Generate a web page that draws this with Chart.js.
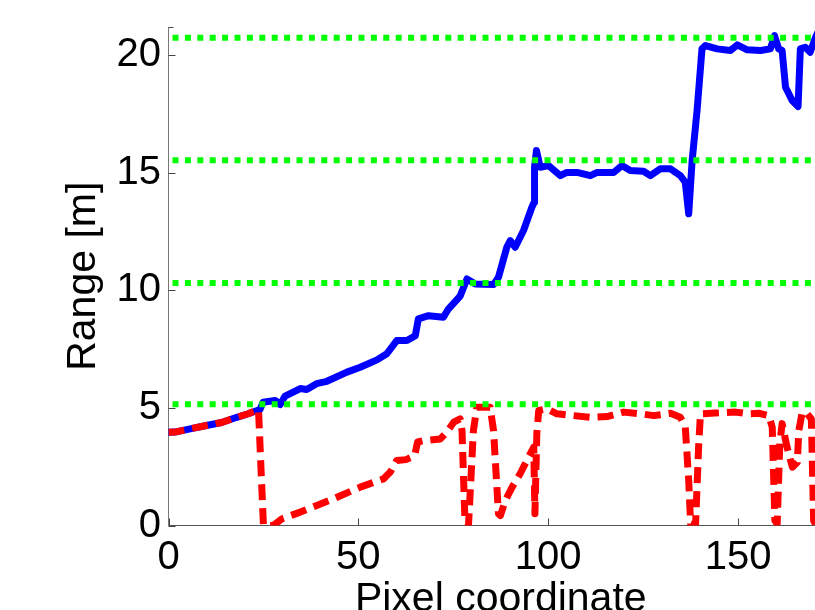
<!DOCTYPE html>
<html><head><meta charset="utf-8">
<script src="https://cdn.jsdelivr.net/npm/chart.js@4/dist/chart.umd.min.js"></script>
<style>html,body{margin:0;padding:0;overflow:hidden;background:#fff;width:815px;height:610px}canvas{display:block}</style>
</head><body>
<canvas id="c" width="833" height="630" style="width:833px;height:630px"></canvas>
<script>
// Blue solid series
const blueX = [0,1.7,6,10,14,18,21,24.1,24.9,28.1,29.4,30.7,34.7,36.4,39,41.7,47,50.5,54.9,57.5,60.1,62.8,65,65.8,68.5,72.4,73.7,76.8,78.6,80.8,85.6,86.9,89.1,90,91.3,93.5,95.7,96.3,96.4,96.9,97.9,100.1,103.2,104.9,107.6,111.1,112.9,117.2,119.4,121.6,125.1,126.9,129.5,132.2,134.8,136.1,137,137.9,139.2,140.5,141.4,144.5,148,149.8,152.4,155.9,158.5,159.6,160.7,161.6,162.5,164.3,165.8,166.4,167.7,169,170.4,172];
const blueY = [3.96,3.97,4.12,4.25,4.38,4.6,4.75,4.93,5.24,5.31,5.14,5.5,5.82,5.78,6.03,6.13,6.52,6.73,7.04,7.3,7.86,7.86,8.07,8.78,8.92,8.85,9.2,9.75,10.48,10.27,10.24,10.55,11.83,12.11,11.83,12.54,13.53,13.74,15.23,15.94,15.23,15.3,14.87,15.01,15.01,14.87,15.01,15.0,15.3,15.09,15.06,14.87,15.16,15.16,14.87,14.59,13.25,15.51,17.64,20.26,20.4,20.26,20.19,20.43,20.22,20.19,20.26,20.82,20.26,20.19,18.63,18.05,17.81,20.26,20.33,20.12,20.75,21.3];
// Red dashed series
const redX = [0,1.7,6,10,14,18,21,23.7,25,27.6,29.8,34.7,43.4,50.5,56.6,58.4,60.1,62.5,64.8,65.6,67.2,71.6,73.3,75.1,76.8,77.3,78.1,79,80.3,81.2,84.7,85.6,86.9,87.4,88.7,90.5,92.6,94.8,96.2,96.5,97,97.5,99.7,102.3,106.7,111.1,115.5,119.9,124.3,127.8,132.2,134.8,136.1,137,137.5,138.8,139.6,140.1,144,149.3,152.8,155.4,158.1,159,159.4,159.7,160.3,161,161.6,162.9,164.3,165.6,166,166.9,168.2,169.3,169.9,170.6];
const redY = [3.96,3.97,4.12,4.25,4.38,4.6,4.75,4.93,0,0,0.28,0.57,1.13,1.63,1.98,2.27,2.76,2.8,2.95,3.55,3.61,3.68,3.97,4.39,4.53,4.04,0.07,0,4.04,5.03,5.03,4.04,0.5,0.42,1.06,1.63,2.2,2.9,3.33,0.5,3.9,4.89,4.96,4.75,4.67,4.6,4.63,4.82,4.75,4.67,4.77,4.6,4.18,1.91,0.07,0,3.33,4.75,4.78,4.82,4.75,4.77,4.67,4.18,1.91,0.21,0.07,3.5,4.33,3.33,2.48,2.69,4.04,4.82,4.75,4.53,0.21,0];
// Green dotted reference levels
const levelY = [5.15, 10.31, 15.53, 20.73];
const levelXRange = [0, 176];
// Axes
const xTickValues = [0, 50, 100, 150];
const yTickValues = [0, 5, 10, 15, 20];
const xLimits = [0, 175];
const yLimits = [0, 21.19];
const xTitle = 'Pixel coordinate';
const yTitle = 'Range [m]';

const FONT = "'Liberation Sans', Arial, Helvetica, sans-serif";
const pts = (xs, ys) => xs.map((x, i) => ({x, y: ys[i]}));

const datasets = [];
levelY.forEach(v => datasets.push({
  data: levelXRange.map(x => ({x, y: v})),
  borderColor: '#00ff00', borderWidth: 6, borderDash: [6, 6.4], borderDashOffset: -4,
  borderCapStyle: 'butt', order: 0
}));
datasets.push({
  data: pts(redX, redY), borderColor: '#ff0000', borderWidth: 7,
  borderDash: [16, 8], borderCapStyle: 'butt', borderJoinStyle: 'round', order: 1
});
datasets.push({
  data: pts(blueX, blueY), borderColor: '#0000ff', borderWidth: 7,
  borderCapStyle: 'round', borderJoinStyle: 'round', order: 2
});
datasets.forEach(d => { d.showLine = true; d.pointRadius = 0; d.tension = 0; d.fill = false; d.clip = 0; });

const inwardTicks = {
  id: 'inwardTicks',
  beforeDatasetsDraw(chart) {
    const {ctx, chartArea: a, scales: {x, y}} = chart;
    ctx.save();
    ctx.strokeStyle = '#444'; ctx.lineWidth = 1;
    ctx.beginPath();
    xTickValues.forEach(v => { const px = Math.round(x.getPixelForValue(v)) + 0.5; ctx.moveTo(px, a.bottom); ctx.lineTo(px, a.bottom - 7); });
    yTickValues.forEach(v => { const py = Math.round(y.getPixelForValue(v)) + 0.5; ctx.moveTo(a.left, py); ctx.lineTo(a.left + 7, py); });
    ctx.moveTo(a.left, a.top + 0.5); ctx.lineTo(a.left + 5, a.top + 0.5);
    ctx.stroke();
    ctx.restore();
  }
};

new Chart(document.getElementById('c'), {
  type: 'scatter',
  data: {datasets},
  options: {
    responsive: false, animation: false, devicePixelRatio: 1,
    layout: {padding: {top: 27, left: 0, right: 0, bottom: 0}},
    plugins: {legend: {display: false}, tooltip: {enabled: false}},
    scales: {
      x: {
        type: 'linear', min: xLimits[0], max: xLimits[1],
        afterBuildTicks: s => { s.ticks = xTickValues.map(v => ({value: v})); },
        afterFit: s => { s.height = 104.5; s.paddingLeft = 0; s.paddingRight = 0; },
        grid: {display: false, drawTicks: false},
        border: {display: true, color: '#555', width: 1},
        ticks: {color: '#000', font: {family: FONT, size: 40}, padding: 8, maxRotation: 0, autoSkip: false},
        title: {display: true, text: xTitle, color: '#000', font: {family: FONT, size: 41}, padding: {top: 0, bottom: 5.7}}
      },
      y: {
        type: 'linear', min: yLimits[0], max: yLimits[1],
        afterBuildTicks: s => { s.ticks = yTickValues.map(v => ({value: v})); },
        afterFit: s => { s.width = 168.5; s.paddingTop = 0; s.paddingBottom = 0; },
        grid: {display: false, drawTicks: false},
        border: {display: true, color: '#777', width: 1},
        ticks: {color: '#000', font: {family: FONT, size: 40}, padding: 7.5, autoSkip: false},
        title: {display: true, text: yTitle, color: '#000', font: {family: FONT, size: 41}, padding: {top: 58.7, bottom: 0}}
      }
    }
  },
  plugins: [inwardTicks]
});
</script>
</body></html>
